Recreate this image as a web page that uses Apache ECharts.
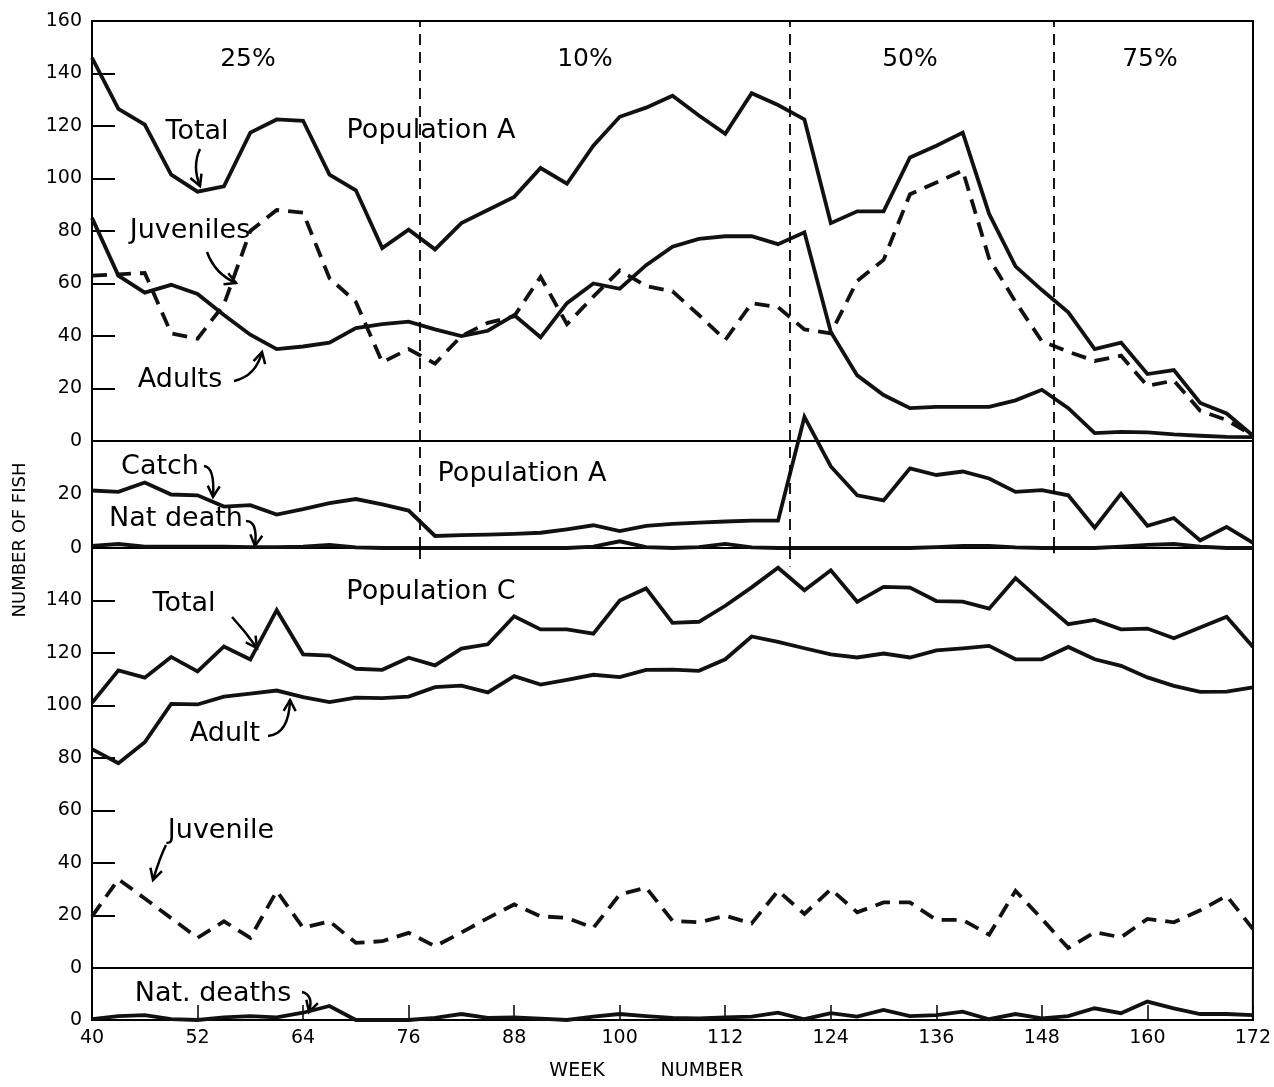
<!DOCTYPE html>
<html>
<head>
<meta charset="utf-8">
<title>Number of fish by week</title>
<script src="https://cdn.jsdelivr.net/npm/echarts@6/dist/echarts.min.js"></script>
<style>
  html, body { margin: 0; padding: 0; background: #fff; }
  #chart { width: 1274px; height: 1087px; }
</style>
</head>
<body>
<div id="chart"></div>
<script>
// week numbers of the samples
const weeks = [40, 43, 46, 49, 52, 55, 58, 61, 64, 67, 70, 73, 76, 79, 82, 85, 88, 91, 94, 97, 100, 103, 106,
  109, 112, 115, 118, 121, 124, 127, 130, 133, 136, 139, 142, 145, 148, 151, 154, 157, 160, 163, 166, 169, 172]

// Population A
const totalA = [146, 126.5, 120.5, 101.5, 95, 97, 117.5, 122.5, 122, 101.5, 95.5, 73.5, 80.5, 73, 83, 88, 93, 104, 98,
  112.5, 123.5, 127, 131.5, 124, 117, 132.5, 128, 122.5, 83, 87.5, 87.5, 108, 112.5, 117.5, 86.5, 66.5, 57.5, 49,
  35, 37.5, 25.5, 27, 14.5, 10.5, 2]
const juvenilesA = [63, 63.5, 64, 41, 39, 52, 80, 88, 87, 62, 53, 30, 35, 29.5, 40, 45, 47.5, 62.5, 44.5, 55, 65, 59,
  57, 48, 38.5, 52.5, 51, 42.5, 41, 61, 69, 94, 98.5, 103, 69.5, 53, 38, 34, 30.5, 32.5, 21, 23, 11.5, 8, 2]
const adultsA = [85, 63, 56.5, 59.5, 56, 48, 40.5, 35, 36, 37.5, 43, 44.5, 45.5, 42.5, 40, 42, 48, 39.5, 52.5, 60, 58,
  67, 74, 77, 78, 78, 75, 79.5, 41.5, 25, 17.5, 12.5, 13, 13, 13, 15.5, 19.5, 12.5, 3, 3.5, 3.3, 2.5, 2, 1.6, 1.5]
const catchA = [21.5, 21, 24.5, 20, 19.7, 15.5, 16, 12.5, 14.5, 16.8, 18.3, 16.3, 14, 4.5, 4.8, 5, 5.3, 5.7, 7, 8.5,
  6.3, 8.3, 9, 9.5, 9.9, 10.2, 10.2, 49, 30.5, 19.7, 17.8, 29.8, 27.3, 28.6, 26, 21, 21.6, 19.7, 7.6, 20.3, 8.3,
  11.2, 2.8, 7.9, 1.9]
const natDeathA = [0.8, 1.5, 0.5, 0.5, 0.5, 0.5, 0.3, 0.3, 0.5, 1.2, 0.2, 0, 0, 0, 0, 0, 0, 0, 0, 0.5, 2.5, 0.3, 0,
  0.3, 1.5, 0.2, 0, 0, 0, 0, 0, 0, 0.3, 0.8, 0.8, 0.2, 0, 0, 0, 0.5, 1.2, 1.5, 0.5, 0, 0]

// Population C
const totalC = [101, 113.4, 110.6, 118.5, 113, 122.5, 117.5, 136.3, 119.5, 119, 114, 113.6, 118.2, 115.3, 121.7,
  123.3, 134, 129, 129, 127.4, 140, 144.6, 131.5, 131.9, 138, 145, 152.5, 143.9, 151.5, 139.5, 145.2, 144.9, 139.8,
  139.6, 136.9, 148.5, 139.6, 131, 132.6, 129, 129.3, 125.6, 129.7, 133.8, 122.3]
const adultC = [83.4, 78, 86, 100.6, 100.4, 103.4, 104.5, 105.7, 103.2, 101.3, 103, 102.8, 103.4, 107, 107.6, 105,
  111.2, 108, 109.8, 111.7, 110.8, 113.6, 113.7, 113.2, 117.6, 126.3, 124.2, 121.8, 119.5, 118.3, 119.8, 118.3, 121,
  121.8, 122.7, 117.6, 117.6, 122.3, 117.6, 115.1, 110.7, 107.5, 105.2, 105.3, 106.9]
const juvenileC = [19.7, 33.8, 26.5, 19, 11.5, 17.8, 11.5, 29.3, 15.3, 17.8, 9.6, 10.2, 13.4, 8.3, 13.5, 19, 24.2,
  19.7, 19.1, 15.3, 28, 30.6, 18, 17.4, 19.9, 17, 29.4, 20.6, 30, 21.2, 25, 25, 18.3, 18.3, 12.7, 29.4, 18.7, 7.6,
  13.6, 11.7, 18.7, 17.4, 22, 27.5, 14.8]
const natDeathC = [0.3, 1.5, 1.9, 0.3, 0, 1, 1.5, 1, 2.8, 5.4, 0, 0, 0, 0.8, 2.3, 0.8, 1, 0.5, 0, 1.3, 2.3, 1.5, 0.8,
  0.6, 1, 1.3, 2.8, 0.3, 2.6, 1.3, 3.9, 1.5, 1.9, 3.2, 0.3, 2.3, 0.6, 1.5, 4.5, 2.6, 7.1, 4.5, 2.3, 2.3, 1.9]

// harvest-rate periods
const phaseBreaks = [77.3, 119.3, 149.3]
const phaseLabels = ['25%', '10%', '50%', '75%']

const FONT = 'DejaVu Sans'
const INK = '#111'

const chart = echarts.init(document.getElementById('chart'), null, { renderer: 'canvas' })

const pts = arr => weeks.map((w, i) => [w, arr[i]])

const grids = [
  { left: 92, top: 21, width: 1161, height: 420 },
  { left: 92, top: 441, width: 1161, height: 107 },
  { left: 92, top: 548, width: 1161, height: 420 },
  { left: 92, top: 968, width: 1161, height: 52 },
].map(g => ({ ...g, show: true, borderColor: '#000', borderWidth: 2, backgroundColor: 'transparent' }))

function xAx(i) {
  const last = i === 3
  return {
    type: 'value', gridIndex: i, min: 40, max: 172, interval: 12,
    axisLine: { show: true, lineStyle: { color: '#000', width: 2 } },
    axisTick: { show: last, inside: true, length: 15, lineStyle: { color: '#000', width: 1.5 } },
    axisLabel: { show: last, color: '#000', fontFamily: FONT, fontSize: 19, margin: 9 },
    splitLine: { show: false },
  }
}

function yAx(i, max, interval, hideTop, ticks) {
  return {
    type: 'value', gridIndex: i, min: 0, max, interval,
    axisLine: { show: true, lineStyle: { color: '#000', width: 2 } },
    axisTick: { show: ticks, inside: true, length: 23, lineStyle: { color: '#000', width: 2 } },
    axisLabel: {
      color: '#000', fontFamily: FONT, fontSize: 19, margin: 10,
      formatter: v => (hideTop && v === max ? '' : String(v)),
    },
    splitLine: { show: false },
  }
}

function line(name, data, gi, dashed, extra) {
  return Object.assign({
    name, type: 'line', xAxisIndex: gi, yAxisIndex: gi, data: pts(data),
    symbol: 'none', clip: false, silent: true,
    lineStyle: { color: INK, width: 3.8, type: dashed ? [15, 9] : 'solid', join: 'miter' },
  }, extra || {})
}

const breakStyle = { color: '#000', width: 1.8, type: [11, 7] }
const fullBreaks = {
  silent: true, symbol: 'none', label: { show: false }, lineStyle: breakStyle,
  data: phaseBreaks.map(w => ({ xAxis: w })),
}
const stubBreaks = {
  silent: true, symbol: 'none', label: { show: false }, lineStyle: breakStyle,
  data: [
    [{ coord: [phaseBreaks[0], 160] }, { coord: [phaseBreaks[0], 155] }],
    [{ coord: [phaseBreaks[1], 160] }, { coord: [phaseBreaks[1], 153] }],
    [{ coord: [phaseBreaks[2], 160] }, { coord: [phaseBreaks[2], 158] }],
  ],
}

// text + arrow annotations
function txt(x, y, s, size, rot) {
  return {
    type: 'text', x, y, silent: true, rotation: rot || 0,
    style: { text: s, fill: '#000', font: `${size || 27}px "${FONT}"`, align: 'center', verticalAlign: 'middle' },
  }
}
function arrow(x1, y1, cx, cy, x2, y2) {
  const a = Math.atan2(y2 - cy, x2 - cx)
  const L = 11, W = 6
  const bx = x2 - L * Math.cos(a), by = y2 - L * Math.sin(a)
  return [
    { type: 'bezierCurve', silent: true, shape: { x1, y1, x2, y2, cpx1: cx, cpy1: cy },
      style: { stroke: '#000', lineWidth: 2.5, fill: null } },
    { type: 'polyline', silent: true,
      shape: { points: [[bx + W * Math.sin(a), by - W * Math.cos(a)], [x2, y2], [bx - W * Math.sin(a), by + W * Math.cos(a)]] },
      style: { stroke: '#000', lineWidth: 2.5, fill: null } },
  ]
}

const graphics = [
  txt(248, 59, phaseLabels[0], 25), txt(585, 59, phaseLabels[1], 25),
  txt(910, 59, phaseLabels[2], 25), txt(1150, 59, phaseLabels[3], 25),
  txt(431, 131, 'Population A'),
  txt(197, 132, 'Total'), ...arrow(200, 149, 192, 166, 200, 186),
  txt(190, 231, 'Juveniles'), ...arrow(207, 252, 215, 274, 236, 283),
  txt(180, 380, 'Adults'), ...arrow(234, 381, 256, 376, 262, 352),
  txt(160, 467, 'Catch'), ...arrow(204, 466, 215, 467, 213, 497),
  txt(176, 519, 'Nat death'), ...arrow(246, 521, 258, 521, 255, 546),
  txt(522, 474, 'Population A'),
  txt(431, 592, 'Population C'),
  txt(184, 604, 'Total'), ...arrow(232, 617, 245, 631, 257, 648),
  txt(225, 734, 'Adult'), ...arrow(268, 736, 289, 734, 290, 700),
  txt(221, 831, 'Juvenile'), ...arrow(166, 845, 160, 857, 153, 880),
  txt(213, 994, 'Nat. deaths'), ...arrow(302, 992, 314, 995, 309, 1012),
  txt(20, 540, 'NUMBER OF FISH', 18, Math.PI / 2),
  txt(577, 1071, 'WEEK', 19), txt(702, 1071, 'NUMBER', 19),
]

chart.setOption({
  animation: false,
  backgroundColor: '#fff',
  grid: grids,
  xAxis: [0, 1, 2, 3].map(xAx),
  yAxis: [
    yAx(0, 160, 20, false, true),
    yAx(1, 40, 20, true, false),
    yAx(2, 160, 20, true, true),
    yAx(3, 20, 20, true, false),
  ],
  series: [
    line('Total A', totalA, 0, false, { markLine: fullBreaks }),
    line('Juveniles A', juvenilesA, 0, true),
    line('Adults A', adultsA, 0, false),
    line('Catch A', catchA, 1, false, { markLine: fullBreaks }),
    line('Nat death A', natDeathA, 1, false),
    line('Total C', totalC, 2, false, { markLine: stubBreaks }),
    line('Adult C', adultC, 2, false),
    line('Juvenile C', juvenileC, 2, true),
    line('Nat. deaths C', natDeathC, 3, false),
  ],
  graphic: graphics,
})
</script>
</body>
</html>
